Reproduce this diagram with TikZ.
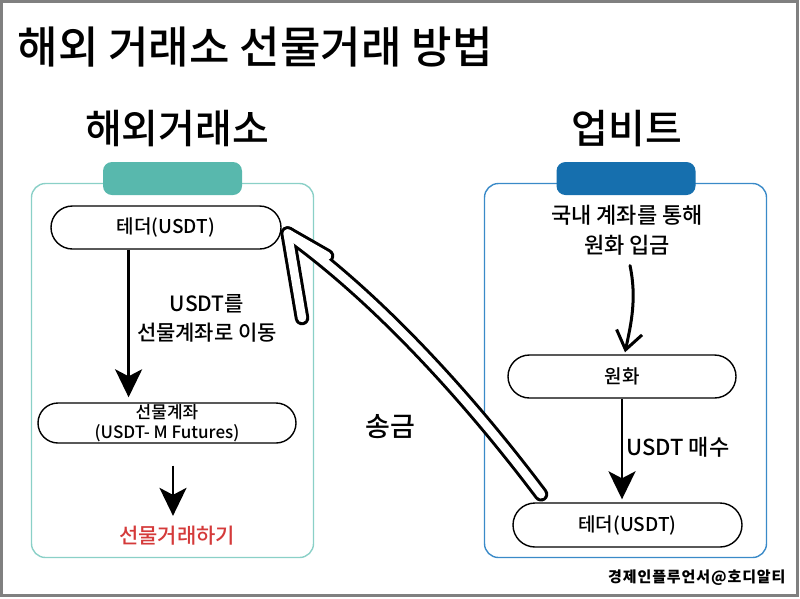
\documentclass[tikz,border=0pt]{standalone}
\usepackage{fontspec}
\setmainfont{Noto Sans CJK KR}
\newfontfamily\krmed{Noto Sans CJK KR Medium}
\usepackage{tikz}
\usetikzlibrary{arrows.meta,positioning,shapes.misc,calc}

\definecolor{tealtab}{HTML}{58B8AD}
\definecolor{tealline}{HTML}{8AD0C7}
\definecolor{bluetab}{HTML}{166FAE}
\definecolor{blueline}{HTML}{3A8AC8}
\definecolor{tradered}{HTML}{D43A3A}
\definecolor{framegray}{HTML}{808080}

\begin{document}
\begin{tikzpicture}[
    x=1pt, y=-1pt,
    >={Stealth[length=28pt,width=27pt,inset=7pt]},
    panel/.style={
        rectangle,
        rounded corners=14pt,
        draw=#1,
        line width=1.4pt,
        minimum width=282pt,
        minimum height=374pt
    },
    tab/.style={
        rectangle,
        rounded corners=9pt,
        fill=#1,
        minimum width=139pt,
        minimum height=33pt
    },
    pill/.style={
        rounded rectangle,
        draw=black,
        line width=1.4pt,
        fill=white,
        minimum width=232pt,
        minimum height=43pt,
        inner sep=1pt,
        font=\fontsize{19}{22}\krmed,
        align=center
    },
    heading/.style={font=\fontsize{40}{46}\krmed},
    caption/.style={font=\fontsize{21}{29}\krmed, align=center},
    flow/.style={->, line width=2.6pt},
    bent/.style={-{Straight Barb[length=18pt,width=26pt]}, line width=3pt, line cap=round},
    hollowout/.style={line width=14.5pt, line cap=round, line join=round},
    hollowin/.style={white, line width=8.5pt, line cap=round, line join=round}
]
\useasboundingbox (0,0) rectangle (800,598);
\draw[framegray, line width=2.5pt] (1.25,1.25) rectangle (797.5,595.5);

% Title
\node[anchor=west, font=\fontsize{44}{50}\krmed] (title) at (14,47) {해외 거래소 선물거래 방법};

% Overseas exchange panel
\node[panel=tealline] (overseasbox) at (172.5,370.5) {};
\node[tab=tealtab] (overseastab) at (172.5,178.5) {};
\node[heading] (overseas) at (177,129) {해외거래소};

\node[pill] (tetherA) at (166,227.5) {테더(USDT)};
\node[pill, minimum width=258pt, minimum height=40pt, inner sep=0pt,
      font=\fontsize{17}{20}\krmed] (futures) at (167,423) {선물계좌\\(USDT- M Futures)};
\node[caption] (movelabel) at (207,318) {USDT를\\선물계좌로 이동};
\node[font=\fontsize{21}{24}\krmed, text=tradered] (trade) at (177,536) {선물거래하기};

\coordinate (moveA) at ($(tetherA.south west)!0.3!(tetherA.south east)$);
\draw[flow, shorten >=5pt] (moveA) -- (moveA |- futures.north);
\coordinate (tradeA) at ($(futures.south)+(6,22)$);
\draw[flow, shorten >=7pt] (tradeA) -- (tradeA |- trade.north);

% Upbit panel
\node[panel=blueline] (upbitbox) at (625.5,370.5) {};
\node[tab=bluetab] (upbittab) at (626,178.5) {};
\node[heading] (upbit) at (627,129) {업비트};

\node[caption, font=\fontsize{22}{30}\krmed] (deposit) at (627,230) {국내 계좌를 통해\\원화 입금};
\node[pill, minimum width=230pt] (won) at (622,376.5) {원화};
\node[pill, minimum width=231pt, minimum height=44pt] (tetherB) at (627.5,525) {테더(USDT)};
\node[anchor=west, font=\fontsize{22}{26}\krmed] (buy) at (623,447) {USDT 매수};

\draw[bent] ($(deposit.south)+(3,7)$) .. controls +(7,33) and +(6,-28) .. ($(won.north)+(3,-2)$);
\draw[flow, shorten >=3pt] (won.south) -- (won.south |- tetherB.north);

% Remittance arrow
\coordinate (remitTail) at ($(tetherB.north west)+(6,-8)$);
\coordinate (remitTip) at ($(tetherA.east)+(6,6)$);
\coordinate (barbA) at (327,256);
\coordinate (barbB) at (302,318);
\draw[hollowout] (remitTip) .. controls (380,300) and (470,400) .. (remitTail);
\draw[hollowout] (barbA) -- (remitTip) -- (barbB);
\draw[hollowin] (remitTip) .. controls (380,300) and (470,400) .. (remitTail);
\draw[hollowin] (barbA) -- (remitTip) -- (barbB);
\node[font=\fontsize{27}{30}\krmed] (remit) at (390,427) {송금};

% Credit
\node[anchor=east, font=\fontsize{15}{17}\bfseries\addfontfeature{LetterSpace=6}] (credit) at (789,578) {경제인플루언서@호디알티};

\end{tikzpicture}
\end{document}
